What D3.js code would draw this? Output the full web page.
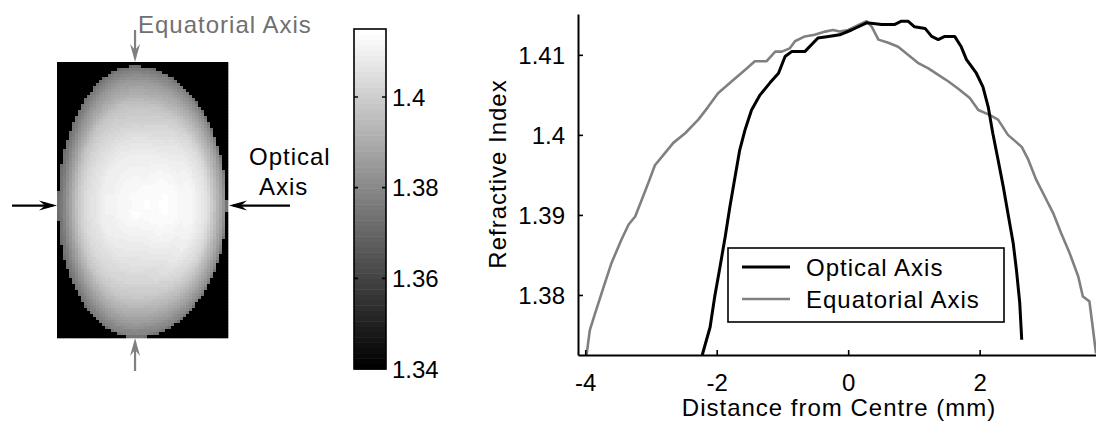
<!DOCTYPE html>
<html>
<head>
<meta charset="utf-8">
<script src="https://cdn.jsdelivr.net/npm/d3@7"></script>
<style>
  body { margin: 0; background: #fff; }
  svg { display: block; }
  text { font-family: "Liberation Sans", Arial, Helvetica, sans-serif; }
</style>
</head>
<body>
<svg id="fig" width="1096" height="425"></svg>
<script>
// Refractive index profiles through the lens centre (distance in mm)
const opticalX = [-2.22, -2.10, -2.03, -1.95, -1.87, -1.80, -1.72, -1.65, -1.57, -1.47, -1.34, -1.19, -1.06, -0.96,
  -0.86, -0.66, -0.46, -0.30, -0.13, 0.05, 0.28, 0.51, 0.71, 0.81, 0.91, 1.01, 1.17, 1.27, 1.37, 1.47, 1.62, 1.72,
  1.80, 1.95, 2.05, 2.13, 2.20, 2.28, 2.36, 2.43, 2.51, 2.56, 2.61, 2.64];
const opticalN = [1.3725, 1.3760, 1.3798, 1.3835, 1.3873, 1.3910, 1.3948, 1.3981, 1.4006, 1.4031, 1.4050, 1.4065,
  1.4077, 1.4098, 1.4104, 1.4104, 1.4121, 1.4123, 1.4125, 1.4131, 1.4140, 1.4138, 1.4138, 1.4142, 1.4142, 1.4135,
  1.4133, 1.4123, 1.4119, 1.4123, 1.4123, 1.4110, 1.4094, 1.4077, 1.4060, 1.4035, 1.4002, 1.3969, 1.3935, 1.3902,
  1.3865, 1.3831, 1.3790, 1.3744];

const equatorialX = [-3.98, -3.93, -3.85, -3.72, -3.60, -3.45, -3.34, -3.24, -3.14, -3.04, -2.94, -2.81, -2.66, -2.48,
  -2.28, -2.13, -1.98, -1.77, -1.57, -1.42, -1.24, -1.11, -1.01, -0.89, -0.81, -0.66, -0.51, -0.35, -0.23, -0.13,
  0.00, 0.15, 0.28, 0.36, 0.46, 0.61, 0.76, 0.91, 1.06, 1.22, 1.37, 1.52, 1.67, 1.85, 1.98, 2.15, 2.28, 2.43, 2.64,
  2.74, 2.86, 2.99, 3.12, 3.24, 3.37, 3.50, 3.57, 3.67, 3.72, 3.77];
const equatorialN = [1.3725, 1.3756, 1.3777, 1.3810, 1.3840, 1.3869, 1.3888, 1.3898, 1.3919, 1.3940, 1.3962, 1.3975,
  1.3990, 1.4002, 1.4019, 1.4035, 1.4052, 1.4067, 1.4081, 1.4092, 1.4092, 1.4104, 1.4104, 1.4108, 1.4117, 1.4123,
  1.4125, 1.4129, 1.4131, 1.4129, 1.4131, 1.4137, 1.4142, 1.4135, 1.4119, 1.4115, 1.4110, 1.4100, 1.4090, 1.4083,
  1.4075, 1.4067, 1.4058, 1.4046, 1.4031, 1.4025, 1.4019, 1.4000, 1.3985, 1.3969, 1.3944, 1.3923, 1.3902, 1.3877,
  1.3852, 1.3823, 1.3798, 1.3792, 1.3760, 1.3727];

const seriesNames = ["Optical Axis", "Equatorial Axis"];
const xTicks = [-4, -2, 0, 2];
const yTicks = [1.38, 1.39, 1.40, 1.41];
const colorbarTicks = [1.34, 1.36, 1.38, 1.40];
const colorRange = [1.34, 1.415];

const svg = d3.select("#fig");
const FS = 24;
const GREY = "#808080";

// ---------- grey colour map (64 levels) ----------
const levels = 64;
const greyLevel = d3.scaleQuantize().domain(colorRange).range(d3.range(levels));
const greyOf = v => {
  const c = Math.round(255 * greyLevel(Math.max(colorRange[0], Math.min(colorRange[1] - 1e-9, v))) / (levels - 1));
  return d3.rgb(c, c, c).toString();
};

// ---------- lens map ----------
// horizontal: optical axis, vertical: equatorial axis (mm)
const imgX = d3.scaleLinear().domain([-2.25, 2.68]).range([57, 228]);
const imgY = d3.scaleLinear().domain([-4.1, 3.78]).range([62, 338]);
const nOptical = d3.scaleLinear().domain(opticalX).range(opticalN).clamp(true);
const nEquatorial = d3.scaleLinear().domain(equatorialX).range(equatorialN).clamp(true);
const aoL = -opticalX[0], aoR = opticalX[opticalX.length - 1];
const aeT = -equatorialX[0], aeB = equatorialX[equatorialX.length - 1];

// each cell takes the two measured profiles at the same relative radius,
// blended by direction, so the axis cuts reproduce the profiles
function lensIndex(o, e) {
  const ao = o < 0 ? aoL : aoR, ae = e < 0 ? aeT : aeB;
  const u = o / ao, w = e / ae;
  const r2 = u * u + w * w;
  if (r2 >= 1) return colorRange[0];
  const r = Math.sqrt(r2);
  if (r === 0) return (nOptical(0) + nEquatorial(0)) / 2;
  const wt = (w * w) / r2;
  const nO = nOptical(Math.sign(o || 1) * r * ao);
  const nE = nEquatorial(Math.sign(e || 1) * r * ae);
  return (1 - wt) * nO + wt * nE;
}

const cell = 3;
const [px0, px1] = imgX.range(), [py0, py1] = imgY.range();
const cells = [];
for (let py = py0; py < py1; py += cell) {
  for (let px = px0; px < px1; px += cell) {
    const o = imgX.invert(px + cell / 2), e = imgY.invert(py + cell / 2);
    cells.push({ px, py, w: Math.min(cell, px1 - px), h: Math.min(cell, py1 - py), v: lensIndex(o, e) });
  }
}
svg.append("g").selectAll("rect").data(cells).join("rect")
  .attr("x", d => d.px).attr("y", d => d.py)
  .attr("width", d => d.w + 0.3).attr("height", d => d.h + 0.3)
  .attr("fill", d => greyOf(d.v));

// arrows marking the two profile lines
function arrow(x1, y1, x2, y2, color) {
  const ang = Math.atan2(y2 - y1, x2 - x1);
  const L = 18, W = 5, N = 12;
  const ca = Math.cos(ang), sa = Math.sin(ang);
  const p = (d, s) => [x2 - d * ca - s * sa, y2 - d * sa + s * ca];
  const g = svg.append("g");
  g.append("line").attr("x1", x1).attr("y1", y1).attr("x2", x2 - 4 * ca).attr("y2", y2 - 4 * sa)
    .attr("stroke", color).attr("stroke-width", 2.2);
  g.append("path").attr("d", d3.line()([p(0, 0), p(L, W), p(N, 0), p(L, -W)]) + "Z").attr("fill", color);
}
const cy0 = imgY(0), cx0 = imgX(0);
arrow(12, cy0, px0, cy0, "#000");
arrow(290, cy0, px1 + 1, cy0, "#000");
arrow(cx0, 30, cx0, py0, GREY);
arrow(cx0, 371, cx0, py1, GREY);

svg.append("text").attr("x", 138).attr("y", 33).attr("font-size", FS).attr("letter-spacing", 1)
  .attr("fill", "#707070").text("Equatorial Axis");
svg.append("text").attr("x", 249).attr("y", 165).attr("font-size", FS).attr("letter-spacing", 1)
  .attr("fill", "#000").text("Optical");
svg.append("text").attr("x", 259).attr("y", 195).attr("font-size", FS).attr("letter-spacing", 1)
  .attr("fill", "#000").text("Axis");

// ---------- colour bar ----------
const cbY = d3.scaleLinear().domain(colorRange).range([369, 29]);
const cbX0 = 354, cbX1 = 386;
const bandStep = (colorRange[1] - colorRange[0]) / levels;
const bands = d3.range(levels).map(i => colorRange[0] + i * bandStep);
svg.append("g").selectAll("rect").data(bands).join("rect")
  .attr("x", cbX0).attr("width", cbX1 - cbX0)
  .attr("y", d => cbY(d + bandStep)).attr("height", d => cbY(d) - cbY(d + bandStep) + 0.5)
  .attr("fill", d => greyOf(d + bandStep / 2));
svg.append("rect").attr("x", cbX0).attr("y", cbY.range()[1]).attr("width", cbX1 - cbX0)
  .attr("height", cbY.range()[0] - cbY.range()[1]).attr("fill", "none").attr("stroke", "#000").attr("stroke-width", 1.6);
const cbT = svg.append("g").selectAll("g").data(colorbarTicks).join("g");
cbT.filter(d => d > colorRange[0]).append("path")
  .attr("d", d => `M${cbX0},${cbY(d)}h4M${cbX1},${cbY(d)}h-4`).attr("stroke", "#000").attr("stroke-width", 1.6);
cbT.append("text").attr("x", cbX1 + 6).attr("y", d => cbY(d)).attr("dy", "0.36em")
  .attr("font-size", FS).text(d => String(+d.toFixed(2)));

// ---------- profile plot ----------
const x = d3.scaleLinear().domain([-4.11, 3.77]).range([578, 1096]);
const y = d3.scaleLinear().domain([1.3725, 1.4151]).range([355, 14]);

const line = d3.line().x(d => x(d[0])).y(d => y(d[1]));
const opticalPts = opticalX.map((v, i) => [v, opticalN[i]]);
const equatorialPts = equatorialX.map((v, i) => [v, equatorialN[i]]);

svg.append("path").datum(equatorialPts).attr("d", line).attr("fill", "none")
  .attr("stroke", GREY).attr("stroke-width", 2.6).attr("stroke-linejoin", "round");
svg.append("path").datum(opticalPts).attr("d", line).attr("fill", "none")
  .attr("stroke", "#000").attr("stroke-width", 3).attr("stroke-linejoin", "round");

const xAxis = svg.append("g").attr("transform", `translate(0,${y.range()[0]})`)
  .call(d3.axisBottom(x).tickValues(xTicks).tickSize(-5).tickSizeOuter(0).tickPadding(19)
    .tickFormat(d => String(d)));
const yAxis = svg.append("g").attr("transform", `translate(${x.range()[0]},0)`)
  .call(d3.axisLeft(y).tickValues(yTicks).tickSize(-5).tickSizeOuter(0).tickPadding(13)
    .tickFormat(d => String(+d.toFixed(2))));
[xAxis, yAxis].forEach(a => {
  a.selectAll("path.domain").attr("stroke", "#000").attr("stroke-width", 2);
  a.selectAll(".tick line").attr("stroke", "#000").attr("stroke-width", 1.6);
  a.selectAll(".tick text").attr("font-size", FS).attr("fill", "#000")
    .attr("font-family", "'Liberation Sans', Arial, sans-serif");
});
yAxis.selectAll(".tick text").attr("dy", "0.36em");

svg.append("text").attr("x", 839).attr("y", 416).attr("text-anchor", "middle").attr("font-size", FS)
  .attr("letter-spacing", 1).text("Distance from Centre (mm)");
svg.append("text").attr("transform", "translate(506,174) rotate(-90)").attr("text-anchor", "middle")
  .attr("font-size", FS).attr("letter-spacing", 1).text("Refractive Index");

// legend
const lg = svg.append("g").attr("transform", "translate(728,248)");
lg.append("rect").attr("width", 276).attr("height", 74).attr("fill", "#fff")
  .attr("stroke", "#000").attr("stroke-width", 1.6);
const items = [{ name: seriesNames[0], color: "#000", w: 3 }, { name: seriesNames[1], color: GREY, w: 2.6 }];
const li = lg.selectAll("g.item").data(items).join("g").attr("class", "item")
  .attr("transform", (d, i) => `translate(0,${19 + i * 32})`);
li.append("line").attr("x1", 14).attr("x2", 62).attr("stroke", d => d.color).attr("stroke-width", d => d.w);
li.append("text").attr("x", 78).attr("dy", "0.36em").attr("font-size", FS).attr("letter-spacing", 1)
  .text(d => d.name);
</script>
</body>
</html>
